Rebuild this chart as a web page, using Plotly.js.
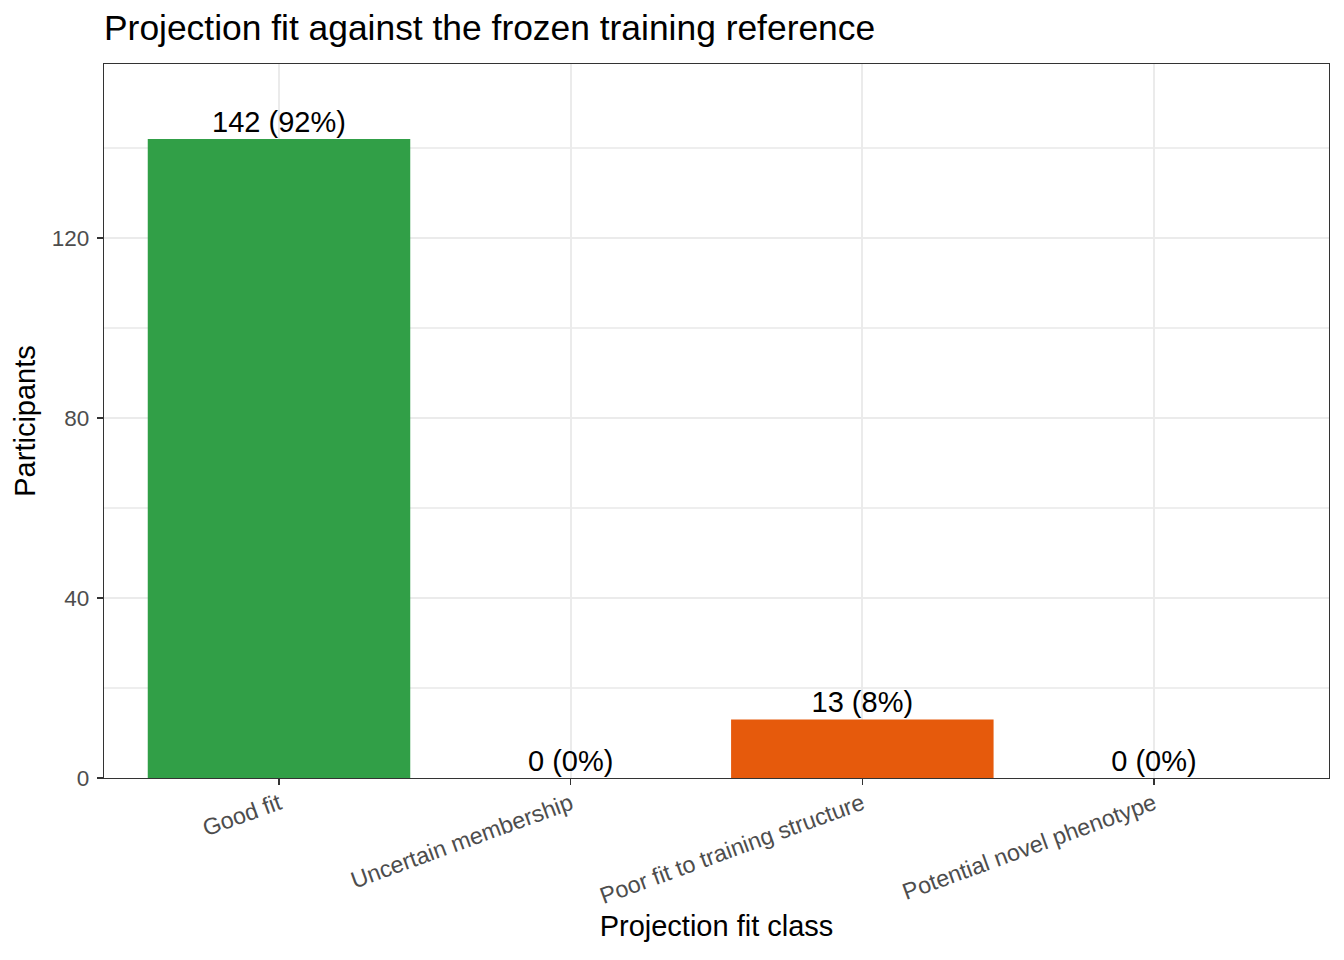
<!DOCTYPE html>
<html><head><meta charset="utf-8">
<script src="https://cdn.plot.ly/plotly-3.0.1.min.js"></script>
<style>body{margin:0;background:#fff}#c{width:1344px;height:960px}</style>
</head><body><div id="c"></div>
<script>
const categories = ["Good fit", "Uncertain membership", "Poor fit to training structure", "Potential novel phenotype"];
const counts = [142, 0, 13, 0];
const percents = [92, 0, 8, 0];
const barColors = ["#319F47", "#319F47", "#E65A0C", "#E65A0C"];
const yTicks = [0, 40, 80, 120];

const labels = counts.map((c, i) => c + " (" + percents[i] + "%)");
const xIdx = categories.map((_, i) => i);

const bars = {
  type: "bar", x: xIdx, y: counts, width: 0.9,
  marker: {color: barColors, line: {width: 0}},
  hoverinfo: "skip", showlegend: false
};
const txt = {
  type: "scatter", mode: "text", x: xIdx, y: counts, text: labels,
  textposition: "top center", textfont: {family: "Liberation Sans, Arial, sans-serif", size: 29, color: "#000"},
  hoverinfo: "skip", showlegend: false, cliponaxis: false
};

const layout = {
  width: 1344, height: 960,
  margin: {l: 104, r: 15, t: 64, b: 182},
  paper_bgcolor: "#fff", plot_bgcolor: "#fff",
  font: {family: "Liberation Sans, Arial, sans-serif", color: "#4D4D4D"},
  title: {text: "Projection fit against the frozen training reference", x: 104/1344, xanchor: "left",
          y: 1 - 28/960, yanchor: "middle", xref: "container", yref: "container",
          font: {size: 35.4, color: "#000"}},
  xaxis: {
    range: [-0.6, 3.6], tickmode: "array", tickvals: xIdx, ticktext: categories,
    tickangle: -20, tickfont: {size: 23.3, color: "#4D4D4D"}, ticklabelstandoff: -4,
    ticks: "outside", ticklen: 6, tickcolor: "#333", tickwidth: 1.3,
    showgrid: true, gridcolor: "#EBEBEB", gridwidth: 2,
    zeroline: false, showline: true, mirror: true, linecolor: "#333", linewidth: 1.3,
    title: {text: "Projection fit class", font: {size: 29, color: "#000"}, standoff: 7},
    automargin: false, fixedrange: true
  },
  yaxis: {
    range: [0, 158.67], tickmode: "array", tickvals: yTicks,
    tickfont: {size: 22.5, color: "#4D4D4D"}, ticklabelstandoff: 3,
    ticks: "outside", ticklen: 6, tickcolor: "#333", tickwidth: 1.3,
    showgrid: true, gridcolor: "#EBEBEB", gridwidth: 2,
    minor: {tickmode: "array", tickvals: [20, 60, 100, 140], showgrid: true, gridcolor: "#EEEEEE", gridwidth: 1.2, ticks: ""},
    zeroline: false, showline: true, mirror: true, linecolor: "#333", linewidth: 1.3,
    title: {text: "Participants", font: {size: 29, color: "#000"}, standoff: 7},
    automargin: false, fixedrange: true
  },
  bargap: 0.1
};
Plotly.newPlot("c", [bars, txt], layout, {displayModeBar: false, staticPlot: true});
</script></body></html>
